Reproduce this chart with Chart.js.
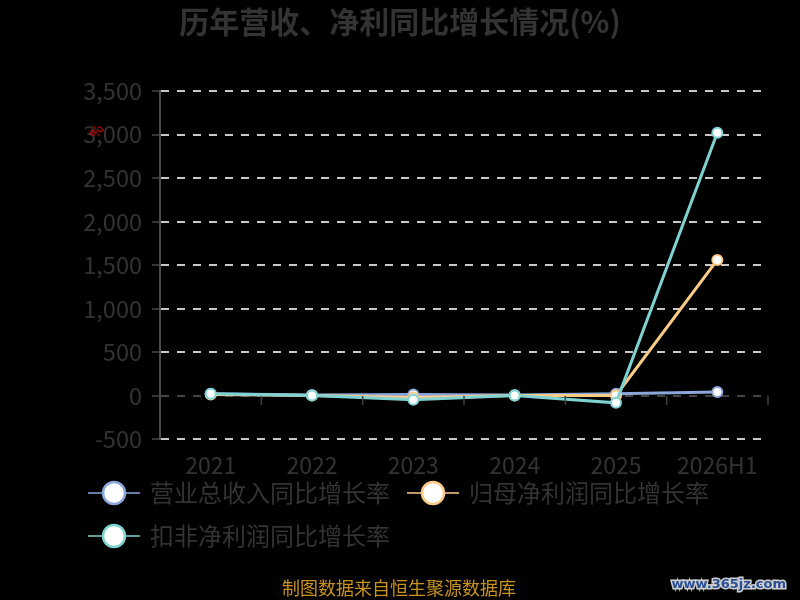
<!DOCTYPE html>
<html>
<head>
<meta charset="utf-8">
<script src="https://cdn.jsdelivr.net/npm/chart.js@4/dist/chart.umd.min.js"></script>
<style>
  html, body { margin: 0; padding: 0; background: #000; }
  #wrap { width: 800px; height: 600px; }
</style>
</head>
<body>
<div id="wrap"><canvas id="chart" width="800" height="600"></canvas></div>
<script>
// 데이터
const categories = ["2021", "2022", "2023", "2024", "2025", "2026H1"];
const revenueGrowth = [25, 10, 15, 10, 25, 45];      // 营业总收入同比增长率
const netProfitGrowth = [15, 5, -20, 5, 5, 1560];    // 归母净利润同比增长率
const deductedGrowth = [25, 5, -45, 5, -80, 3020];   // 扣非净利润同比增长率
const yTicks = { min: -500, max: 3500, step: 500 };

const FONT = "'Noto Sans CJK SC', 'Noto Sans', sans-serif";
const TEXT = "#333";
const colors = ["#8aa6db", "#fccb86", "#7fd2d2"];

// 범례 아이콘: 선 + 흰 원
function legendIcon(color) {
    const c = document.createElement("canvas");
    c.width = 52; c.height = 30;
    const g = c.getContext("2d");
    g.strokeStyle = color;
    g.lineWidth = 1.5;
    g.beginPath(); g.moveTo(0, 15); g.lineTo(52, 15); g.stroke();
    g.fillStyle = "#fff";
    g.lineWidth = 2.5;
    g.beginPath(); g.arc(26, 15, 11, 0, Math.PI * 2); g.fill(); g.stroke();
    return c;
}

function series(label, data, color, order) {
    return {
        label, data, order,
        borderColor: color, backgroundColor: "#fff",
        borderWidth: 3,
        pointStyle: "circle",
        pointRadius: 5, pointBorderWidth: 2,
        pointBackgroundColor: "#fff", pointBorderColor: color,
        tension: 0,
    };
}

// 바닥 글씨, 워터마크, 빨간 %
const extras = {
    id: "extras",
    afterLayout(chart) {
        // 범례 위치 맞추기
        const lg = chart.legend;
        lg.top -= 29; lg.bottom -= 29;
        lg.left += 39; lg.right += 39;
    },
    afterDraw(chart) {
        const ctx = chart.ctx;
        const x = chart.scales.x, y = chart.scales.y;
        // 0 선 위의 눈금
        ctx.save();
        ctx.strokeStyle = "#444"; ctx.lineWidth = 1.5;
        const y0 = y.getPixelForValue(0);
        const half = (x.getPixelForValue(1) - x.getPixelForValue(0)) / 2;
        for (let i = 0; i < categories.length; i++) {
            const px = x.getPixelForValue(i) + half;
            ctx.beginPath(); ctx.moveTo(px, y0); ctx.lineTo(px, y0 + 9); ctx.stroke();
        }
        ctx.restore();

        ctx.save();
        ctx.font = "18px " + FONT;
        ctx.fillStyle = "#c8921c";
        ctx.textAlign = "center"; ctx.textBaseline = "middle";
        ctx.fillText("制图数据来自恒生聚源数据库", 399, 588);

        ctx.font = "bold 13px 'DejaVu Sans', sans-serif";
        ctx.textAlign = "right";
        ctx.lineWidth = 3; ctx.strokeStyle = "#cfcfcf";
        ctx.strokeText("www.365jz.com", 786, 585);
        ctx.fillStyle = "#2a4f94";
        ctx.fillText("www.365jz.com", 786, 585);

        ctx.translate(96, 131);
        ctx.rotate(-55 * Math.PI / 180);
        ctx.font = "14px " + FONT;
        ctx.fillStyle = "#e00000";
        ctx.textAlign = "center";
        ctx.fillText("%", 0, 0);
        ctx.restore();
    }
};

new Chart(document.getElementById("chart"), {
    type: "line",
    data: {
        labels: categories,
        datasets: [
            series("营业总收入同比增长率", revenueGrowth, colors[0], 2),
            series("归母净利润同比增长率", netProfitGrowth, colors[1], 1),
            series("扣非净利润同比增长率", deductedGrowth, colors[2], 0),
        ],
    },
    options: {
        responsive: false,
        animation: false,
        layout: { padding: { left: 32, right: 32, top: 0, bottom: 13 } },
        plugins: {
            title: {
                display: true,
                text: "历年营收、净利同比增长情况(%)",
                color: TEXT,
                font: { family: FONT, size: 30, weight: "bold" },
                padding: { top: 4, bottom: 51 },
            },
            legend: {
                position: "bottom", align: "start",
                labels: {
                    usePointStyle: true, pointStyleWidth: 48,
                    padding: 19, color: TEXT,
                    font: { family: FONT, size: 24 },
                    sort: (a, b) => a.datasetIndex - b.datasetIndex,
                    generateLabels(chart) {
                        const items = Chart.defaults.plugins.legend.labels.generateLabels(chart);
                        items.forEach(it => { it.pointStyle = legendIcon(colors[it.datasetIndex]); });
                        return items;
                    },
                },
            },
            tooltip: { enabled: false },
        },
        scales: {
            x: {
                offset: true,
                grid: { display: false, drawTicks: false },
                border: { display: false },
                ticks: { color: TEXT, font: { family: FONT, size: 23 }, padding: 12, maxRotation: 0 },
            },
            y: {
                min: yTicks.min, max: yTicks.max,
                ticks: { stepSize: yTicks.step, color: TEXT, font: { family: FONT, size: 23.5 }, padding: 10 },
                grid: {
                    color: c => c.tick && c.tick.value === 0 ? "#444" : "#c8c8c8",
                    lineWidth: 2, tickLength: 8, tickColor: "#444", tickWidth: 1.5,
                },
                border: { display: true, color: "#4a4a4a", width: 2, dash: [8, 8] },
                afterFit: s => { s.width = 128; },
            },
        },
    },
    plugins: [extras],
});
</script>
</body>
</html>
